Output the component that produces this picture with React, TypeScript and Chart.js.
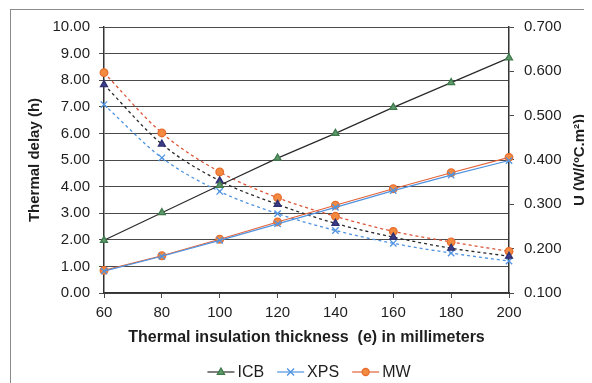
import React, { useEffect, useRef } from 'react';
import { Chart, registerables } from 'chart.js';

Chart.register(...registerables);

const thickness = ['60', '80', '100', '120', '140', '160', '180', '200'];
const icbDelay = [1.98, 3.02, 4.05, 5.07, 6.0, 6.98, 7.91, 8.84];
const xpsDelay = [0.82, 1.38, 1.98, 2.6, 3.22, 3.85, 4.43, 4.98];
const mwDelay = [0.85, 1.4, 2.02, 2.67, 3.3, 3.92, 4.52, 5.1];
const icbU = [0.57, 0.436, 0.353, 0.3, 0.257, 0.226, 0.201, 0.183];
const xpsU = [0.525, 0.405, 0.329, 0.279, 0.241, 0.212, 0.19, 0.172];
const mwU = [0.597, 0.461, 0.373, 0.315, 0.273, 0.239, 0.215, 0.194];
const seriesNames = ['ICB', 'XPS', 'MW'];

const FONT = "'Liberation Sans', Arial, sans-serif";

const C = {
  icbLine: '#2a2a2a',
  icbMark: '#5f9a6c',
  icbDashMark: '#3d3d88',
  xps: '#4f93e0',
  mwLine: '#e2633a',
  mwMark: '#f28a40',
  mwDash: '#dc5538',
  grid: '#4a4a4a',
  text: '#1e1e1e',
};

function drawMarker(ctx: CanvasRenderingContext2D, style: string, x: number, y: number, fill: string, stroke: string) {
  ctx.save();
  ctx.fillStyle = fill;
  ctx.strokeStyle = stroke;
  ctx.lineWidth = 1.3;
  ctx.beginPath();
  if (style === 'triangle') {
    const r = 4;
    ctx.moveTo(x, y - r);
    ctx.lineTo(x + r * 0.9, y + r * 0.6);
    ctx.lineTo(x - r * 0.9, y + r * 0.6);
    ctx.closePath();
    ctx.fill();
    ctx.stroke();
  } else if (style === 'crossRot') {
    const r = 3.5;
    ctx.moveTo(x - r, y - r);
    ctx.lineTo(x + r, y + r);
    ctx.moveTo(x + r, y - r);
    ctx.lineTo(x - r, y + r);
    ctx.stroke();
  } else {
    ctx.arc(x, y, 3.5, 0, Math.PI * 2);
    ctx.fill();
    ctx.stroke();
  }
  ctx.restore();
}

const extrasPlugin = {
  id: 'extras',
  afterDraw(chart: any) {
    const ctx: CanvasRenderingContext2D = chart.ctx;
    const area = chart.chartArea;
    // right axis title, reading bottom to top
    ctx.save();
    ctx.translate(572, (area.top + area.bottom) / 2);
    ctx.rotate(-Math.PI / 2);
    ctx.font = `bold 15px ${FONT}`;
    ctx.fillStyle = C.text;
    ctx.textAlign = 'center';
    ctx.textBaseline = 'middle';
    ctx.fillText('U (W/(ºC.m²))', 0, 0);
    ctx.restore();

    // legend
    ctx.save();
    ctx.font = `16px ${FONT}`;
    const lineLen = 27;
    const gapText = 3;
    const gapItem = 13;
    const items = chart.data.datasets.slice(0, 3).map((d: any) => ({
      label: d.label,
      color: d.borderColor,
      mark: d.pointStyle,
      fill: d.pointBackgroundColor,
      stroke: d.pointBorderColor,
      w: ctx.measureText(d.label).width,
    }));
    const total = items.reduce((s: number, it: any) => s + lineLen + gapText + it.w, 0) + gapItem * (items.length - 1);
    let x = 301 - total / 2;
    const y = 364;
    items.forEach((it: any) => {
      ctx.strokeStyle = it.color;
      ctx.lineWidth = 1.2;
      ctx.beginPath();
      ctx.moveTo(x, y);
      ctx.lineTo(x + lineLen, y);
      ctx.stroke();
      drawMarker(ctx, it.mark, x + lineLen / 2, y, it.fill, it.stroke);
      ctx.fillStyle = C.text;
      ctx.textBaseline = 'middle';
      ctx.textAlign = 'left';
      ctx.fillText(it.label, x + lineLen + gapText, y + 1);
      x += lineLen + gapText + it.w + gapItem;
    });
    ctx.restore();
  },
};

export default function App() {
  const ref = useRef<HTMLCanvasElement>(null);
  useEffect(() => {
    const solid = (label: string, data: number[], color: string, style: string, fill: string, stroke: string, r: number) => ({
      label,
      data,
      yAxisID: 'y',
      borderColor: color,
      backgroundColor: fill,
      borderWidth: 1.2,
      pointStyle: style,
      pointRadius: r,
      pointBackgroundColor: fill,
      pointBorderColor: stroke,
      pointBorderWidth: 1.3,
      tension: 0,
    });
    const dashed = (label: string, data: number[], color: string, style: string, fill: string, stroke: string, r: number) => ({
      ...solid(label, data, color, style, fill, stroke, r),
      yAxisID: 'y1',
      borderDash: [3, 3],
      borderWidth: 1.3,
      cubicInterpolationMode: 'monotone',
      tension: 0.4,
    });
    const chart = new Chart(ref.current!, {
      type: 'line',
      data: {
        labels: thickness,
        datasets: [
          solid(seriesNames[0], icbDelay, C.icbLine, 'triangle', C.icbMark, '#3f7a4c', 4),
          solid(seriesNames[1], xpsDelay, C.xps, 'crossRot', C.xps, C.xps, 4.5),
          solid(seriesNames[2], mwDelay, C.mwLine, 'circle', C.mwMark, '#e86e30', 3.8),
          dashed(seriesNames[0] + ' U', icbU, C.icbLine, 'triangle', C.icbDashMark, '#2e2e70', 4),
          dashed(seriesNames[1] + ' U', xpsU, C.xps, 'crossRot', C.xps, C.xps, 4.5),
          dashed(seriesNames[2] + ' U', mwU, C.mwDash, 'circle', C.mwMark, '#e86e30', 3.8),
        ] as any,
      },
      options: {
        responsive: false,
        animation: false,
        devicePixelRatio: 1,
        layout: { padding: { top: 17, left: 0, right: 0, bottom: 0 } },
        plugins: {
          legend: { display: false },
          tooltip: { enabled: false },
        },
        scales: {
          x: {
            type: 'category',
            offset: false,
            grid: { drawOnChartArea: false, drawTicks: true, tickLength: 5, color: C.grid },
            border: { color: '#333', width: 1.5 },
            ticks: { font: { family: FONT, size: 15 }, color: C.text, padding: 6, maxRotation: 0, autoSkip: false },
            title: {
              display: true,
              text: 'Thermal insulation thickness  (e) in millimeters',
              font: { family: FONT, size: 16, weight: 'bold' },
              color: C.text,
              padding: { top: 0, bottom: 36 },
            },
            afterFit: (s: any) => { s.height = 90; },
          },
          y: {
            position: 'left',
            min: 0,
            max: 10,
            grid: { color: C.grid, tickLength: 5, lineWidth: 1 },
            border: { color: '#333', width: 1.5 },
            ticks: {
              stepSize: 1,
              font: { family: FONT, size: 15 },
              color: C.text,
              padding: 9,
              callback: (v: any) => Number(v).toFixed(2),
            },
            title: {
              display: true,
              text: 'Thermal delay (h)',
              font: { family: FONT, size: 15, weight: 'bold' },
              color: C.text,
              padding: { top: 18, bottom: 0 },
            },
            afterFit: (s: any) => { s.width = 96; },
          },
          y1: {
            position: 'right',
            min: 0.1,
            max: 0.7,
            grid: { drawOnChartArea: false, color: C.grid, tickLength: 5 },
            border: { color: '#333', width: 1.5 },
            ticks: {
              stepSize: 0.1,
              font: { family: FONT, size: 15 },
              color: C.text,
              padding: 10,
              callback: (v: any) => Number(v).toFixed(3),
            },
            afterFit: (s: any) => { s.width = 83; },
          },
        },
      } as any,
      plugins: [extrasPlugin],
    });
    return () => chart.destroy();
  }, []);
  return (
    <div style={{ position: 'relative', width: 584, height: 375 }}>
      <div
        style={{
          position: 'absolute',
          left: 2,
          top: 1,
          right: 0,
          bottom: 0,
          borderLeft: '1px solid #8a8a8a',
          borderTop: '1px solid #8a8a8a',
        }}
      />
      <canvas ref={ref} width={584} height={375} style={{ position: 'absolute', left: 0, top: 0, width: 584, height: 375 }} />
    </div>
  );
}
